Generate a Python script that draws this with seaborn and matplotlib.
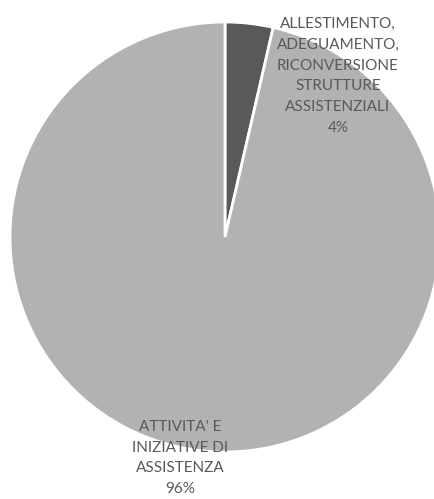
import matplotlib
matplotlib.use("Agg")
import matplotlib.pyplot as plt
import seaborn as sns

# data
categories = ["ALLESTIMENTO,\nADEGUAMENTO,\nRICONVERSIONE\nSTRUTTURE\nASSISTENZIALI",
              "ATTIVITA' E\nINIZIATIVE DI\nASSISTENZA"]
shares = [3.6, 96.4]
colors = ["#595959", "#b2b2b2"]

sns.set_theme(style="white")
plt.rcParams['font.family'] = ['Lato', 'DejaVu Sans']

fig = plt.figure(figsize=(4.34, 4.99), dpi=100)
ax = fig.add_axes([10 / 434, 47 / 499, 430 / 434, 430 / 499])

wedges, _ = ax.pie(shares, colors=colors, startangle=90, counterclock=False,
                   wedgeprops=dict(edgecolor="white", linewidth=2))
ax.set_xlim(-1, 1)
ax.set_ylim(-1, 1)
ax.set_aspect("equal")
ax.axis("off")

# data labels: category + percentage
label_pos = [(338 / 434, 1 - 76 / 499), (180 / 434, 1 - 458 / 499)]
total = sum(shares)
for cat, val, (x, y) in zip(categories, shares, label_pos):
    fig.text(x, y, f"{cat}\n{val / total * 100:.0f}%", ha="center", va="center",
             color="#595959", fontsize=11, linespacing=1.63)

fig.savefig("out.png", dpi=100)
